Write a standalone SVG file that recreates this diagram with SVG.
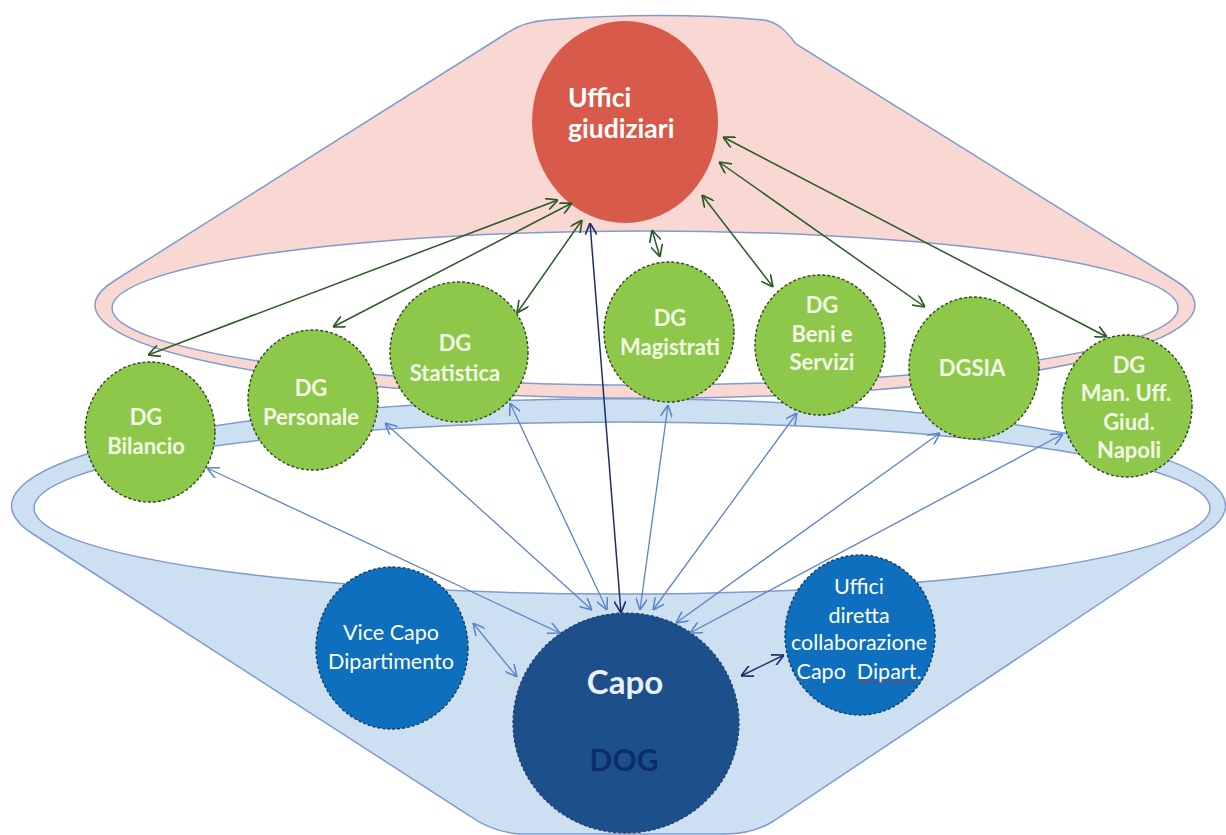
<svg xmlns="http://www.w3.org/2000/svg" width="1226" height="835" viewBox="0 0 1226 835">
<style>
.shape{stroke:#7f9bd0;stroke-width:1.5}
.green{fill:#8dc84b;stroke:#2f4a1c;stroke-width:1.4;stroke-dasharray:3 2}
.lblue{fill:#0d6fbd;stroke:#123f63;stroke-width:1.4;stroke-dasharray:3 2}
.tg{font-family:Lato,"Liberation Sans",sans-serif;font-weight:bold;font-size:22px;fill:#f4f9e6;text-anchor:middle}
.tb{font-family:Lato,"Liberation Sans",sans-serif;font-size:21.5px;fill:#ffffff;text-anchor:middle}
.cg{stroke:#2b5a26;stroke-width:1.5;fill:none;marker-start:url(#mg);marker-end:url(#mg)}
.cb{stroke:#5b84c6;stroke-width:1.3;fill:none;marker-start:url(#mb);marker-end:url(#mb)}
.cn{stroke:#1e2f6e;stroke-width:1.5;fill:none;marker-start:url(#mn);marker-end:url(#mn)}
</style>
<defs>
<marker id="mg" viewBox="0 0 10 10" refX="10" refY="5" markerWidth="12" markerHeight="12" markerUnits="userSpaceOnUse" orient="auto-start-reverse"><path d="M0,0 L10,5 L0,10" fill="none" stroke="#2b5a26" stroke-width="1.4"/></marker>
<marker id="mb" viewBox="0 0 10 10" refX="10" refY="5" markerWidth="12" markerHeight="12" markerUnits="userSpaceOnUse" orient="auto-start-reverse"><path d="M0,0 L10,5 L0,10" fill="none" stroke="#5b84c6" stroke-width="1.3"/></marker>
<marker id="mn" viewBox="0 0 10 10" refX="10" refY="5" markerWidth="12" markerHeight="12" markerUnits="userSpaceOnUse" orient="auto-start-reverse"><path d="M0,0 L10,5 L0,10" fill="none" stroke="#1e2f6e" stroke-width="1.4"/></marker>
</defs>
<rect width="1226" height="835" fill="#ffffff"/>
<g id="cone-top">
<path class="shape" fill="#f9d8d4" d="M114,281 L507,33 C520,24 533,21 548,20 C620,14 700,14 764,20 C778,22 787,32 796,44 L1176,281 A550 93 0 1 1 114,281 Z"/>
<ellipse class="shape" fill="#ffffff" cx="645" cy="308" rx="533" ry="77"/>
</g>
<g id="cone-bottom">
<path class="shape" fill="#cde0f2" d="M33,534 A607 107 0 1 1 1207,532 L772,822 Q752,834 725,834 L520,834 Q492,832 470,816 Z"/>
<ellipse class="shape" fill="#ffffff" cx="622" cy="508" rx="588" ry="86"/>
</g>
<g id="uffici-giudiziari">
<ellipse cx="625" cy="122" rx="93" ry="101" fill="#d85a4b"/>
<text font-family="Lato,'Liberation Sans',sans-serif" font-weight="bold" font-size="26.5" fill="#ffffff"><tspan x="568" y="107">Uffici</tspan><tspan x="568" y="138">giudiziari</tspan></text>
</g>
<g id="dg-bilancio">
<ellipse class="green" cx="150" cy="432" rx="65" ry="70"/>
<text class="tg"><tspan x="146" y="425">DG</tspan><tspan x="146" y="454">Bilancio</tspan></text>
</g>
<g id="dg-personale">
<ellipse class="green" cx="313" cy="400" rx="65" ry="70"/>
<text class="tg"><tspan x="311" y="396">DG</tspan><tspan x="311" y="425">Personale</tspan></text>
</g>
<g id="dg-statistica">
<ellipse class="green" cx="459" cy="352" rx="69" ry="70"/>
<text class="tg"><tspan x="455" y="351">DG</tspan><tspan x="455" y="381">Statistica</tspan></text>
</g>
<g id="dg-magistrati">
<ellipse class="green" cx="669" cy="332" rx="65" ry="70"/>
<text class="tg"><tspan x="670" y="326">DG</tspan><tspan x="670" y="355">Magistrati</tspan></text>
</g>
<g id="dg-beni-servizi">
<ellipse class="green" cx="820" cy="345" rx="65" ry="70"/>
<text class="tg"><tspan x="822" y="313">DG</tspan><tspan x="822" y="342">Beni e</tspan><tspan x="822" y="370">Servizi</tspan></text>
</g>
<g id="dgsia">
<ellipse class="green" cx="974" cy="368" rx="65" ry="71"/>
<text class="tg" x="972" y="376">DGSIA</text>
</g>
<g id="dg-napoli">
<ellipse class="green" cx="1127" cy="406" rx="65" ry="71"/>
<text class="tg"><tspan x="1129" y="373">DG</tspan><tspan x="1126" y="401">Man. Uff.</tspan><tspan x="1129" y="430">Giud.</tspan><tspan x="1129" y="458">Napoli</tspan></text>
</g>
<g id="vice-capo">
<ellipse class="lblue" cx="392" cy="648" rx="76" ry="81"/>
<text class="tb"><tspan x="391" y="640">Vice Capo</tspan><tspan x="391" y="669">Dipartimento</tspan></text>
</g>
<g id="uffici-diretta">
<ellipse class="lblue" cx="860" cy="635" rx="75" ry="80"/>
<text class="tb" xml:space="preserve"><tspan x="859" y="594">Uffici</tspan><tspan x="859" y="623">diretta</tspan><tspan x="859" y="650">collaborazione</tspan><tspan x="859" y="679">Capo  Dipart.</tspan></text>
<path d="M856,683 l2,-2 l2,2 l2,-2 l2,2 l2,-2 l2,2 l2,-2 l2,2 l2,-2 l2,2 l2,-2 l2,2 l2,-2 l2,2 l2,-2 l2,2 l2,-2 l2,2 l2,-2 l2,2 l2,-2 l2,2 l2,-2 l2,2 l2,-2 l2,2 l2,-2 l2,2 l2,-2 l2,2" fill="none" stroke="#d02020" stroke-width="0.8"/>
</g>
<g id="capo-dog">
<ellipse cx="626" cy="723" rx="113" ry="110" fill="#1d4f8b" stroke="#1a3f70" stroke-width="1.2" stroke-dasharray="3 2"/>
<text font-family="Lato,'Liberation Sans',sans-serif" font-weight="bold" font-size="33" fill="#e8f0fa" text-anchor="middle" x="625" y="694">Capo</text>
<text font-family="Lato,'Liberation Sans',sans-serif" font-weight="bold" font-size="30" fill="#0b2e6b" text-anchor="middle" x="624" y="771">DOG</text>
</g>
<g id="connectors">
<line class="cg" x1="558" y1="200" x2="148" y2="355"/>
<line class="cg" x1="572" y1="203" x2="333" y2="327"/>
<line class="cg" x1="582" y1="220" x2="517" y2="313"/>
<line class="cg" x1="652" y1="230" x2="660" y2="257"/>
<line class="cg" x1="702" y1="195" x2="773" y2="287"/>
<line class="cg" x1="719" y1="162" x2="925" y2="307"/>
<line class="cg" x1="723" y1="137" x2="1107" y2="337"/>
<line class="cb" x1="560" y1="633" x2="207" y2="468"/>
<line class="cb" x1="592" y1="610" x2="385" y2="423"/>
<line class="cb" x1="607" y1="610" x2="510" y2="403"/>
<line class="cb" x1="640" y1="610" x2="668" y2="405"/>
<line class="cb" x1="653" y1="610" x2="797" y2="413"/>
<line class="cb" x1="676" y1="623" x2="940" y2="433"/>
<line class="cb" x1="690" y1="633" x2="1063" y2="434"/>
<line class="cb" x1="473" y1="623" x2="517" y2="677"/>
<line class="cn" x1="621" y1="613" x2="590" y2="223"/>
<line class="cn" x1="741" y1="676" x2="784" y2="655"/>
</g>
</svg>
